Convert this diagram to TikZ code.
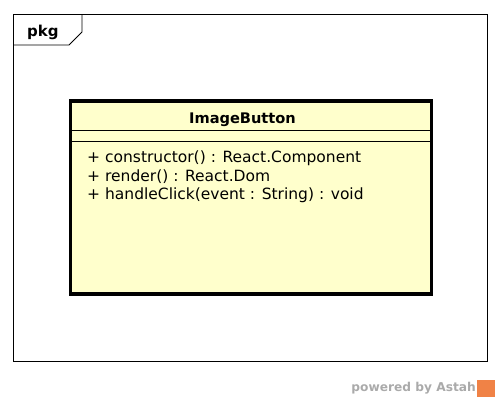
\documentclass[tikz,border=0pt]{standalone}
\usepackage{fontspec}
\setmainfont{DejaVu Sans}
\usetikzlibrary{positioning}
\definecolor{classyellow}{RGB}{255,255,204}
\definecolor{markgray}{RGB}{170,170,170}
\definecolor{markorange}{RGB}{240,130,70}

\begin{document}
\begin{tikzpicture}[x=1pt, y=-1pt,
  frame/.style={draw, line width=0.8pt},
  classbox/.style={draw, line width=3.2pt, fill=classyellow, rectangle, minimum width=361pt, minimum height=193pt, inner sep=0pt},
  sepline/.style={line width=0.8pt},
  optext/.style={anchor=base west, inner sep=0pt, align=left, font=\fontsize{15.5}{18.5}\selectfont}
]
\useasboundingbox (0,0) rectangle (501,402);
% package frame with its tab
\draw[frame] (13,14) rectangle (487,361);
\draw[frame] (82,14) -- (82,32) -- (69,45) -- (13,45);
\node[font=\bfseries\fontsize{15}{17}\selectfont, anchor=base west, inner sep=0pt] (pkg) at (27,36) {pkg};

% the class
\node[classbox] (cls) at (251,197.5) {};
\node[font=\bfseries\fontsize{14.6}{17}\selectfont, anchor=base, inner sep=0pt] (clsname) at (242.5,123) {ImageButton};
\draw[sepline] (71,130) -- (431,130);
\draw[sepline] (71,141) -- (431,141);
\node[optext] (ops) at (87,199.5) {+ constructor() : React.Component\\+ render() : React.Dom\\+ handleClick(event : String) : void};

% watermark
\node[font=\bfseries\fontsize{12.2}{14}\selectfont, text=markgray, anchor=east, inner sep=0pt] (mark) at (476,388) {powered by Astah};
\node[fill=markorange, minimum width=18pt, minimum height=17pt, inner sep=0pt, right=1pt of mark] (logo) {};
\end{tikzpicture}
\end{document}
